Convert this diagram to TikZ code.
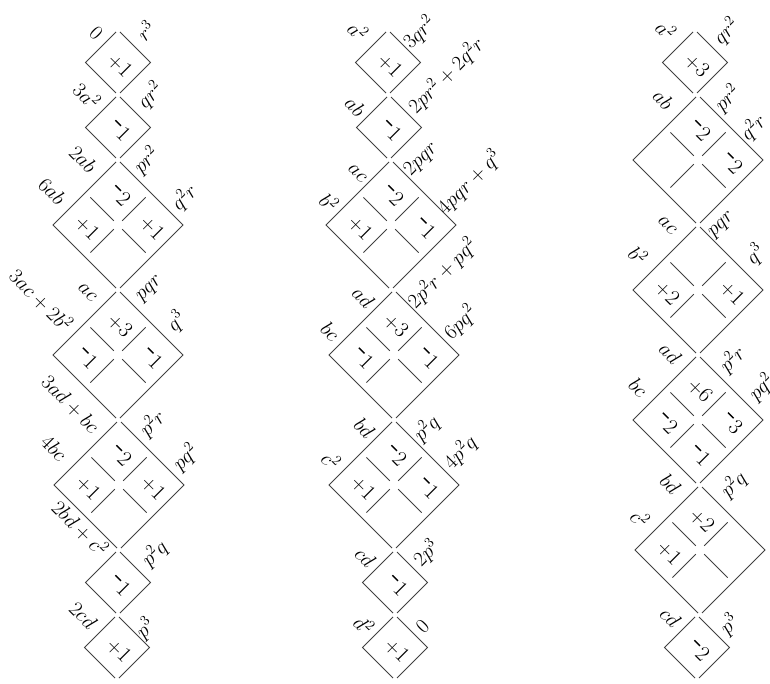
\documentclass[tikz,border=0pt]{standalone}
\begin{document}
\begin{tikzpicture}[x=1pt,y=-1pt,
  edge/.style={draw=black!75, line width=0.9pt},
  num/.style={rotate=-45, font=\fontsize{22}{22}\selectfont, inner sep=0pt},
  llbl/.style={rotate=-45, font=\fontsize{20}{20}\selectfont, inner sep=0pt, xshift=-2.5pt},
  rlbl/.style={rotate=45, font=\fontsize{20}{20}\selectfont, inner sep=0pt, xshift=3.5pt}]
\useasboundingbox (0,0) rectangle (770,684);
\def\hh{32.5}
\newcommand\mn{\rule[0.48em]{0.36em}{0.06em}\hspace{0.14em}}
\newcommand\pl{$+$}
% single cell block: name, x, ytop, content
\newcommand\sblk[4]{%
  \draw[edge] (#2-2,#3+2) -- (#2-\hh,#3+\hh) -- (#2-2,#3+2*\hh-2);
  \draw[edge] (#2+2,#3+2) -- (#2+\hh,#3+\hh) -- (#2+2,#3+2*\hh-2);
  \node[num] (#1) at (#2+2,#3+\hh+3) {#4};
}
% 2x2 block: name, x, ytop, top, left, right, bottom
\newcommand\dblk[7]{%
  \draw[edge] (#2-2,#3+2) -- (#2-2*\hh,#3+2*\hh) -- (#2-2,#3+4*\hh-2);
  \draw[edge] (#2+2,#3+2) -- (#2+2*\hh,#3+2*\hh) -- (#2+2,#3+4*\hh-2);
  \draw[edge] (#2-0.85*\hh,#3+1.15*\hh) -- (#2-0.13*\hh,#3+1.87*\hh);
  \draw[edge] (#2+0.85*\hh,#3+1.15*\hh) -- (#2+0.13*\hh,#3+1.87*\hh);
  \draw[edge] (#2-0.13*\hh,#3+2.13*\hh) -- (#2-0.85*\hh,#3+2.85*\hh);
  \draw[edge] (#2+0.13*\hh,#3+2.13*\hh) -- (#2+0.85*\hh,#3+2.85*\hh);
  \node[num] (#1t) at (#2+2,#3+\hh+3) {#4};
  \node[num] (#1l) at (#2-\hh+2,#3+2*\hh+3) {#5};
  \node[num] (#1r) at (#2+\hh+2,#3+2*\hh+3) {#6};
  \node[num] (#1b) at (#2+2,#3+3*\hh+3) {#7};
}
% ---------------- left column ----------------
\sblk{A1}{118}{30}{\pl 1}
\sblk{A2}{118}{95}{\mn 1}
\dblk{A3}{118}{160}{\mn 2}{\pl 1}{\pl 1}{}
\dblk{A4}{118}{290}{\pl 3}{\mn 1}{\mn 1}{}
\dblk{A5}{119}{420}{\mn 2}{\pl 1}{\pl 1}{}
\sblk{A6}{118}{550}{\mn 1}
\sblk{A7}{117}{615}{\pl 1}
\node[llbl] (la1) at (98,35) {$0$};
\node[llbl] (la2) at (89,97) {$3a^2$};
\node[llbl] (la3) at (85,161) {$2ab$};
\node[llbl] (la4) at (54,193) {$6ab$};
\node[llbl] (la5) at (89,294) {$ac$};
\node[llbl] (la6) at (43,302) {$3ac+2b^2$};
\node[llbl] (la7) at (72,406) {$3ad+bc$};
\node[llbl] (la8) at (56,450) {$4bc$};
\node[llbl] (la9) at (82,530) {$2bd+c^2$};
\node[llbl] (la10) at (85,617) {$2cd$};
\node[rlbl] (ra1) at (143,33) {$r^3$};
\node[rlbl] (ra2) at (148,98) {$qr^2$};
\node[rlbl] (ra3) at (144,163) {$pr^2$};
\node[rlbl] (ra4) at (182,200) {$q^2r$};
\node[rlbl] (ra5) at (148,292) {$pqr$};
\node[rlbl] (ra6) at (174,324) {$q^3$};
\node[rlbl] (ra7) at (150,426) {$p^2r$};
\node[rlbl] (ra8) at (183,460) {$pq^2$};
\node[rlbl] (ra9) at (152,556) {$p^2q$};
\node[rlbl] (ra10) at (143,631) {$p^3$};
% ---------------- middle column ----------------
\sblk{B1}{388}{30}{\pl 1}
\sblk{B2}{389}{95}{\mn 1}
\dblk{B3}{391}{160}{\mn 2}{\pl 1}{\mn 1}{}
\dblk{B4}{394}{290}{\pl 3}{\mn 1}{\mn 1}{}
\dblk{B5}{394}{420}{\mn 2}{\pl 1}{\mn 1}{}
\sblk{B6}{395}{550}{\mn 1}
\sblk{B7}{395}{615}{\pl 1}
\node[llbl] (lb1) at (360,33) {$a^2$};
\node[llbl] (lb2) at (357,108) {$ab$};
\node[llbl] (lb3) at (359,175) {$ac$};
\node[llbl] (lb4) at (331,204) {$b^2$};
\node[llbl] (lb5) at (365,299) {$ad$};
\node[llbl] (lb6) at (332,333) {$bc$};
\node[llbl] (lb7) at (366,430) {$bd$};
\node[llbl] (lb8) at (333,462) {$c^2$};
\node[llbl] (lb9) at (367,559) {$cd$};
\node[llbl] (lb10) at (366,627) {$d^2$};
\node[rlbl] (rb1) at (417,35) {$3qr^2$};
\node[rlbl] (rb2) at (444,78) {$2pr^2+2q^2r$};
\node[rlbl] (rb3) at (419,162) {$2pqr$};
\node[rlbl] (rb4) at (467,185) {$4pqr+q^3$};
\node[rlbl] (rb5) at (440,276) {$2p^2r+pq^2$};
\node[rlbl] (rb6) at (458,325) {$6pq^2$};
\node[rlbl] (rb7) at (424,431) {$p^2q$};
\node[rlbl] (rb8) at (458,455) {$4p^2q$};
\node[rlbl] (rb9) at (424,556) {$2p^3$};
\node[rlbl] (rb10) at (420,629) {$0$};
% ---------------- right column ----------------
\sblk{C1}{695}{30}{\pl 3}
\dblk{C2}{698}{95}{\mn 2}{}{\mn 2}{}
\dblk{C3}{698}{225}{}{\pl 2}{\pl 1}{}
\dblk{C4}{698}{355}{\pl 6}{\mn 2}{\mn 3}{\mn 1}
\dblk{C5}{700}{485}{\pl 2}{\pl 1}{}{}
\sblk{C6}{697}{615}{\mn 2}
\node[llbl] (lc1) at (668,32) {$a^2$};
\node[llbl] (lc2) at (665,101) {$ab$};
\node[llbl] (lc3) at (669,227) {$ac$};
\node[llbl] (lc4) at (640,257) {$b^2$};
\node[llbl] (lc5) at (672,355) {$ad$};
\node[llbl] (lc6) at (640,389) {$bc$};
\node[llbl] (lc7) at (672,486) {$bd$};
\node[llbl] (lc8) at (642,520) {$c^2$};
\node[llbl] (lc9) at (672,619) {$cd$};
\node[rlbl] (rc1) at (724,34) {$qr^2$};
\node[rlbl] (rc2) at (725,101) {$pr^2$};
\node[rlbl] (rc3) at (751,130) {$q^2r$};
\node[rlbl] (rc4) at (720,228) {$pqr$};
\node[rlbl] (rc5) at (753,257) {$q^3$};
\node[rlbl] (rc6) at (730,362) {$p^2r$};
\node[rlbl] (rc7) at (759,390) {$pq^2$};
\node[rlbl] (rc8) at (731,487) {$p^2q$};
\node[rlbl] (rc9) at (727,627) {$p^3$};
\end{tikzpicture}
\end{document}
